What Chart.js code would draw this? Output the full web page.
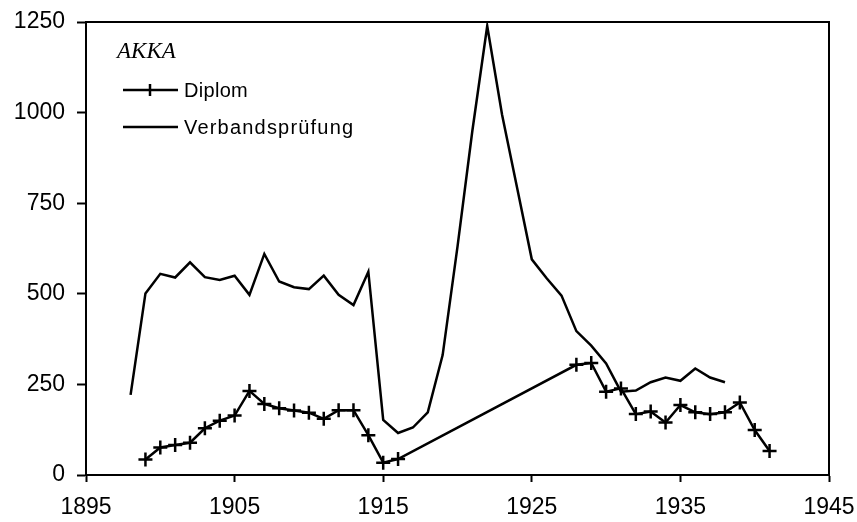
<!DOCTYPE html>
<html>
<head>
<meta charset="utf-8">
<script src="https://cdn.jsdelivr.net/npm/chart.js@4"></script>
<style>
  body { margin: 0; background: #fff; }
</style>
</head>
<body>
<canvas id="myChart" width="857" height="522"></canvas>
<script>
// Diplom (gap 1917-1927 is bridged by a straight line)
const diplomYears = [1899, 1900, 1901, 1902, 1903, 1904, 1905, 1906, 1907, 1908, 1909, 1910, 1911, 1912, 1913, 1914, 1915, 1916,
  1928, 1929, 1930, 1931, 1932, 1933, 1934, 1935, 1936, 1937, 1938, 1939, 1940, 1941];
const diplomValues = [43, 76, 83, 89, 129, 150, 164, 232, 196, 184, 178, 172, 155, 179, 179, 110, 34, 44,
  304, 309, 230, 239, 168, 175, 145, 193, 173, 168, 173, 200, 124, 66];

// Verbandsprüfung
const verbandYears = [1898, 1899, 1900, 1901, 1902, 1903, 1904, 1905, 1906, 1907, 1908, 1909, 1910, 1911, 1912, 1913, 1914,
  1915, 1916, 1917, 1918, 1919, 1920, 1921, 1922, 1923, 1924, 1925, 1926, 1927, 1928, 1929, 1930, 1931, 1932,
  1933, 1934, 1935, 1936, 1937, 1938];
const verbandValues = [221, 501, 555, 545, 587, 546, 538, 550, 497, 610, 534, 518, 513, 550, 497, 469, 561,
  152, 116, 131, 173, 331, 630, 950, 1239, 994, 795, 595, 543, 495, 397, 357, 308, 230, 233,
  256, 269, 260, 294, 269, 256];

const xTicks = [1895, 1905, 1915, 1925, 1935, 1945];
const yTicks = [0, 250, 500, 750, 1000, 1250];
const legendTitle = "AKKA";

function toPoints(xs, ys) {
  return xs.map((x, i) => ({ x: x, y: ys[i] }));
}

// frame + inline legend
const framePlugin = {
  id: "frame",
  afterDraw(chart) {
    const ctx = chart.ctx;
    const a = chart.chartArea;
    ctx.save();
    ctx.strokeStyle = "#000";
    ctx.lineWidth = 2;
    ctx.beginPath();
    ctx.moveTo(a.left, a.top);
    ctx.lineTo(a.right, a.top);
    ctx.lineTo(a.right, a.bottom);
    ctx.stroke();

    // legend
    const lx = a.left + 31;
    ctx.fillStyle = "#000";
    ctx.font = "italic 23px 'Liberation Serif', serif";
    ctx.textBaseline = "alphabetic";
    ctx.fillText(legendTitle, lx, 58);

    ctx.font = "20px 'Liberation Sans', Arial, sans-serif";
    ctx.textBaseline = "middle";
    const rows = [90, 127];
    const spacing = ["0.3px", "1.2px"];
    chart.data.datasets.forEach((ds, i) => {
      const y = rows[i];
      ctx.lineWidth = 2.5;
      ctx.beginPath();
      ctx.moveTo(a.left + 37, y);
      ctx.lineTo(a.left + 92, y);
      ctx.stroke();
      if (ds.pointRadius > 0) {
        ctx.beginPath();
        ctx.moveTo(a.left + 64, y - 6);
        ctx.lineTo(a.left + 64, y + 6);
        ctx.stroke();
      }
      ctx.letterSpacing = spacing[i];
      ctx.fillText(ds.label, a.left + 98, y + 1);
    });
    ctx.restore();
  }
};

const ctx = document.getElementById("myChart");
const myChart = new Chart(ctx, {
  type: "line",
  data: {
    datasets: [
      {
        label: "Diplom",
        data: toPoints(diplomYears, diplomValues),
        borderColor: "#000",
        borderWidth: 2.5,
        pointStyle: "cross",
        pointRadius: 7,
        pointBorderWidth: 2.5,
        pointBorderColor: "#000",
        tension: 0,
      },
      {
        label: "Verbandsprüfung",
        data: toPoints(verbandYears, verbandValues),
        borderColor: "#000",
        borderWidth: 2.5,
        pointRadius: 0,
        tension: 0,
      },
    ],
  },
  options: {
    responsive: false,
    animation: false,
    layout: { padding: { top: 22, right: 28, left: 0, bottom: 0 } },
    plugins: {
      legend: { display: false },
      tooltip: { enabled: false },
    },
    scales: {
      x: {
        type: "linear",
        min: 1895,
        max: 1945,
        afterBuildTicks: (s) => { s.ticks = xTicks.map(v => ({ value: v })); },
        afterFit: (s) => { s.height = 47; s.paddingLeft = 0; s.paddingRight = 0; },
        ticks: {
          color: "#000",
          padding: 12,
          maxRotation: 0,
          font: { family: "'Liberation Sans', Arial, sans-serif", size: 23 },
          callback: (v) => String(v),
        },
        grid: { drawOnChartArea: false, tickLength: 7, tickWidth: 2, color: "#000" },
        border: { color: "#000", width: 2 },
      },
      y: {
        min: 0,
        max: 1250,
        afterBuildTicks: (s) => { s.ticks = yTicks.map(v => ({ value: v })); },
        afterFit: (s) => { s.width = 86; s.paddingTop = 0; s.paddingBottom = 0; },
        ticks: {
          color: "#000",
          padding: 12,
          font: { family: "'Liberation Sans', Arial, sans-serif", size: 23 },
          callback: (v) => String(v),
        },
        grid: { drawOnChartArea: false, tickLength: 9, tickWidth: 2, color: "#000" },
        border: { color: "#000", width: 2 },
      },
    },
  },
  plugins: [framePlugin],
});
</script>
</body>
</html>
